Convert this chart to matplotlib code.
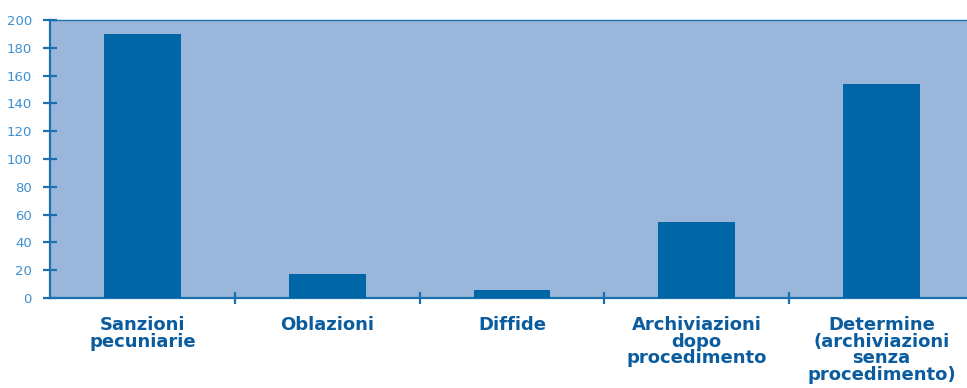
import matplotlib.pyplot as plt
import numpy as np

# Data
categories = ["Sanzioni\npecuniarie", "Oblazioni", "Diffide",
              "Archiviazioni\ndopo\nprocedimento",
              "Determine\n(archiviazioni\nsenza\nprocedimento)"]
values = [190, 17, 6, 55, 154]
yticks = [0, 20, 40, 60, 80, 100, 120, 140, 160, 180, 200]

bg = '#9ab7db'
bar_color = '#0066a6'
line_color = '#1b70b0'
tick_text = '#3d90d0'
label_color = '#0a5c9e'

fig = plt.figure(figsize=(9.67, 3.88), dpi=100)
ax = fig.add_axes([50 / 967, 1 - 298 / 388, 924 / 967, 278 / 388])

x = np.arange(len(categories))
ax.bar(x, values, width=0.415, color=bar_color, zorder=3)

ax.set_facecolor(bg)
ax.set_xlim(-0.5, 4.5)
ax.set_ylim(0, 200)

ax.spines['right'].set_visible(False)
for side in ['left', 'bottom', 'top']:
    ax.spines[side].set_color(line_color)
    ax.spines[side].set_linewidth(1.6)
ax.spines['top'].set_linewidth(1.0)

ax.set_yticks(yticks)
ax.set_yticklabels([str(v) for v in yticks], color=tick_text, fontsize=9.5,
                   family='DejaVu Sans')
ax.tick_params(axis='y', direction='inout', length=10, width=1.6,
               color=line_color, pad=8)

# ticks on category boundaries, labels centred under bars
ax.set_xticks(x[:-1] + 0.5)
ax.set_xticklabels([])
ax.tick_params(axis='x', direction='inout', length=9, width=1.6,
               color=line_color)

for xi, lab in zip(x, categories):
    ax.text(xi, -13, lab, ha='center', va='top', fontsize=13,
            fontweight='bold', family='DejaVu Sans', color=label_color,
            linespacing=0.9, clip_on=False)

fig.savefig('out.png', dpi=100)
